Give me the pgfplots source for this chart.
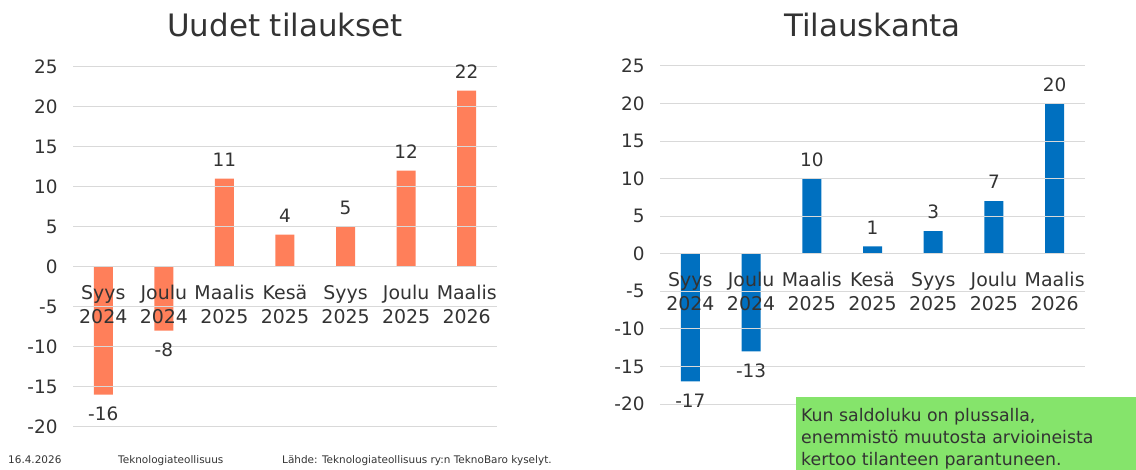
\documentclass[border=0pt]{standalone}
\usepackage{fontspec}
\setmainfont{DejaVu Sans}
\usepackage{pgfplots}
\pgfplotsset{compat=1.18}
\definecolor{txt}{HTML}{333333}
\definecolor{gridc}{HTML}{D9D9D9}
\definecolor{orangebar}{HTML}{FF7F5A}
\definecolor{bluebar}{HTML}{0070C0}
\definecolor{greenbox}{HTML}{85E46B}
\pgfplotsset{
 layers/labelstop/.define layer set={axis background,axis grid,pre main,main,axis ticks,axis lines,axis tick labels,axis descriptions,axis foreground}{},
 barchart/.style={
  set layers=labelstop,
  scale only axis,
  xmin=-0.5, xmax=6.5, ymin=-20, ymax=25,
  ytick={-20,-15,...,25},
  xtick={0,...,6},
  xticklabels={{Syys\\2024},{Joulu\\2024},{Maalis\\2025},{Kesä\\2025},{Syys\\2025},{Joulu\\2025},{Maalis\\2026}},
  axis x line=middle, axis y line=left,
  axis line style={draw=none,-},
  every inner x axis line/.append style={-},
  every outer y axis line/.append style={-},
  major tick length=0pt,
  ymajorgrids, grid style={gridc, line width=1pt},
  /pgf/number format/assume math mode=true,
  tick label style={font=\fontsize{18.5}{24.3}\selectfont, text=txt},
  xticklabel style={align=center, anchor=north, yshift=-15bp, font=\fontsize{19}{24.3}\selectfont},
  yticklabel style={xshift=-12bp},
  ybar, bar width=19bp,
  clip=false,
  nodes near coords,
  every node near coord/.append style={font=\fontsize{18.5}{22}\selectfont, text=txt, inner ysep=12bp},
 }
}
\begin{document}
\begin{tikzpicture}
\path (0bp,0bp) rectangle (1136bp,470bp);
\begin{axis}[barchart, at={(73bp,43.3bp)}, anchor=south west, width=424bp, height=360bp]
\addplot[fill=orangebar, draw=none, on layer=pre main] coordinates {(0,-16) (1,-8) (2,11) (3,4) (4,5) (5,12) (6,22)};
\end{axis}
\begin{axis}[barchart, at={(660bp,66bp)}, anchor=south west, width=425bp, height=338bp]
\addplot[fill=bluebar, draw=none, on layer=pre main] coordinates {(0,-17) (1,-13) (2,10) (3,1) (4,3) (5,7) (6,20)};
\end{axis}
\node[anchor=base, font=\fontsize{31}{36}\selectfont, text=txt, inner sep=0] at (285bp,433bp) {Uudet tilaukset};
\node[anchor=base, font=\fontsize{31}{36}\selectfont, text=txt, inner sep=0] at (872.5bp,433bp) {Tilauskanta};
\node[anchor=base west, font=\fontsize{10.5}{12}\selectfont, text=txt, inner sep=0] at (8bp,7bp) {16.4.2026};
\node[anchor=base west, font=\fontsize{10.5}{12}\selectfont, text=txt, inner sep=0] at (118bp,7bp) {Teknologiateollisuus};
\node[anchor=base west, font=\fontsize{10.5}{12}\selectfont, text=txt, inner sep=0] at (282bp,7bp) {Lähde: Teknologiateollisuus ry:n TeknoBaro kyselyt.};
\fill[greenbox] (796bp,0bp) rectangle (1136bp,72.7bp);
\node[anchor=base west, align=left, font=\fontsize{17.4}{21.7}\selectfont, text=txt, inner sep=0] at (801bp,5bp) {Kun saldoluku on plussalla,\\enemmistö muutosta arvioineista\\kertoo tilanteen parantuneen.};
\end{tikzpicture}
\end{document}
